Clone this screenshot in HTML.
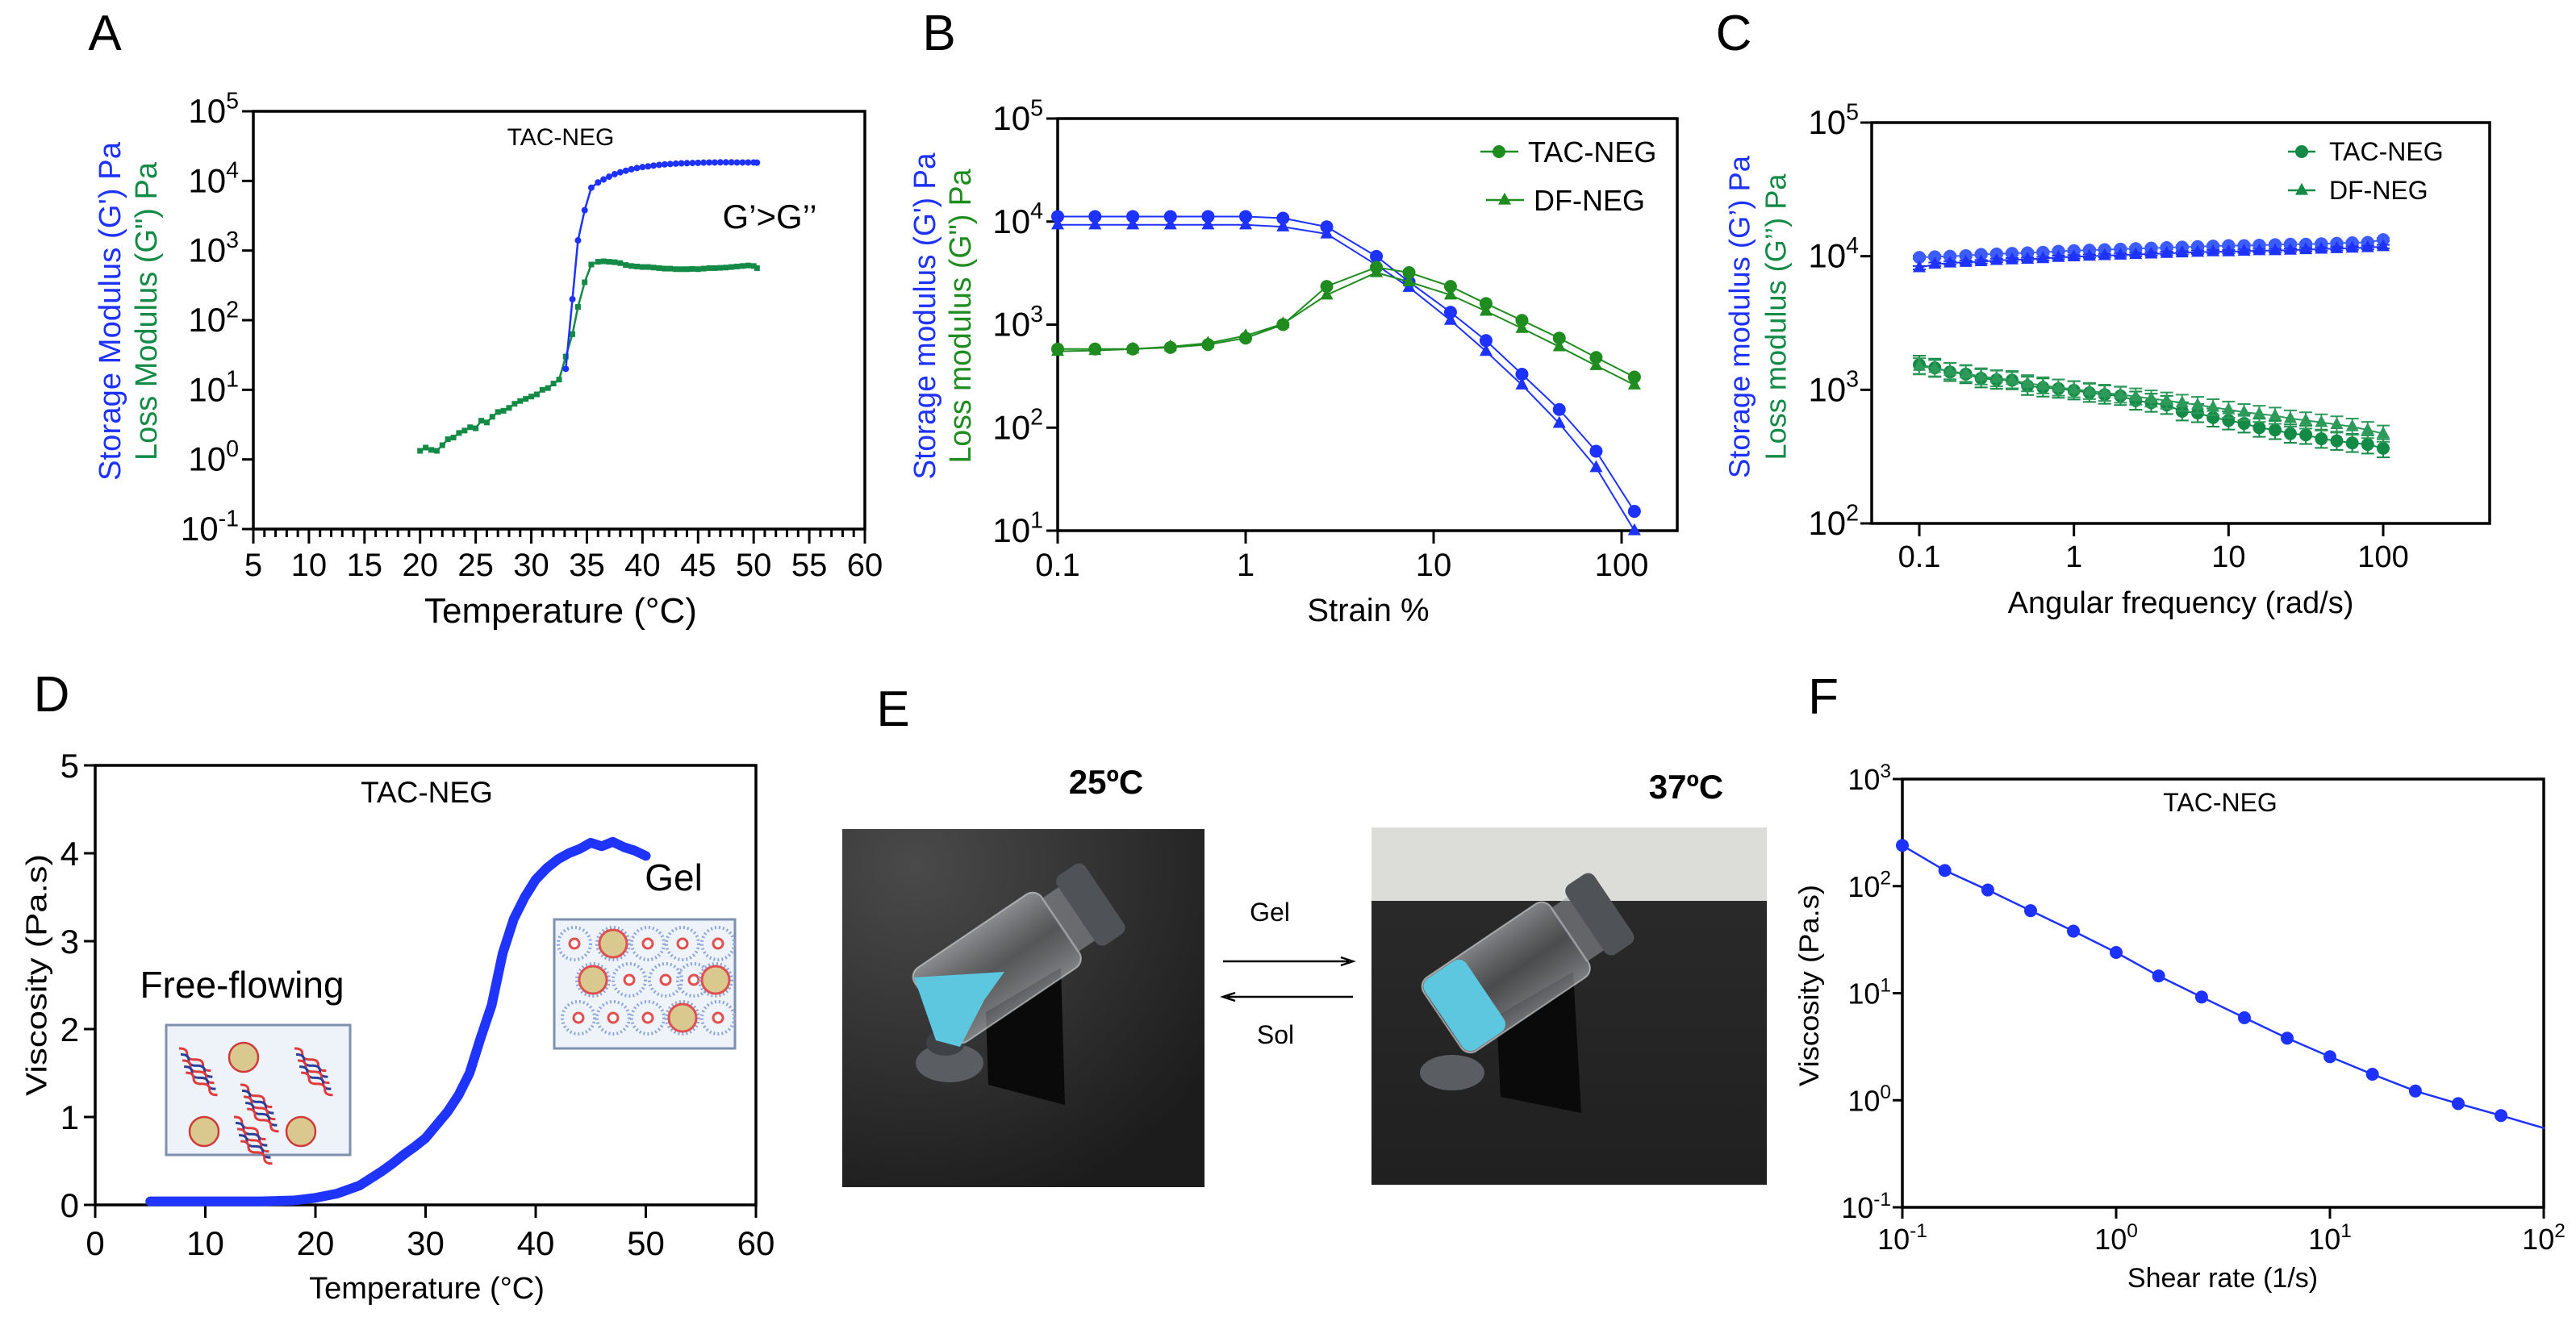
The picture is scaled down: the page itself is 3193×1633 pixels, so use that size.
<!DOCTYPE html>
<html><head><meta charset="utf-8"><title>Rheology figure</title>
<style>
html,body{margin:0;padding:0;background:#fff;}
svg{display:block;font-family:"Liberation Sans",Arial,sans-serif;}
</style></head>
<body>
<svg id="fig" xmlns="http://www.w3.org/2000/svg" width="3193" height="1633" viewBox="0 0 3193 1633">
<defs>
<radialGradient id="bg1" cx="0.2" cy="0.1" r="1"><stop offset="0" stop-color="#4a4a4a"/><stop offset="1" stop-color="#1c1c1c"/></radialGradient>
<linearGradient id="bg2" x1="0" y1="0" x2="0" y2="1"><stop offset="0" stop-color="#2c2c2c"/><stop offset="1" stop-color="#202020"/></linearGradient>
<linearGradient id="glass" x1="0" y1="0" x2="0" y2="1"><stop offset="0" stop-color="#c8ccd0" stop-opacity="0.55"/><stop offset="0.5" stop-color="#8a8f95" stop-opacity="0.35"/><stop offset="1" stop-color="#c0c4c8" stop-opacity="0.55"/></linearGradient>
<clipPath id="clip1"><rect x="1044" y="1028" width="449" height="444"/></clipPath>
<clipPath id="clip2"><rect x="1700" y="1026" width="490" height="443"/></clipPath>
</defs>
<g id="photos">
 <g clip-path="url(#clip1)">
  <rect x="1044" y="1028" width="449" height="444" fill="url(#bg1)"/>
  <polygon points="1222,1255 1315,1200 1320,1370 1225,1345" fill="#0a0a0a"/>
  <ellipse cx="1177" cy="1318" rx="42" ry="24" fill="#5a5e63"/>
  <ellipse cx="1172" cy="1293" rx="24" ry="16" fill="#3e4145"/>
  <g transform="translate(1157,1253) rotate(-34)">
   <rect x="0" y="-55" width="190" height="110" rx="14" fill="url(#glass)" stroke="#d8dadc" stroke-width="2" stroke-opacity="0.6"/>
   <rect x="188" y="-40" width="28" height="80" fill="#9ea2a7" opacity="0.5"/>
   <rect x="214" y="-52" width="42" height="104" rx="10" fill="#4f5358"/>
  </g>
  <polygon points="1133,1212 1245,1205 1220,1240 1190,1298 1160,1290" fill="#5cc7de"/>
 </g>
 <g clip-path="url(#clip2)">
  <rect x="1700" y="1026" width="490" height="443" fill="url(#bg2)"/>
  <rect x="1700" y="1026" width="490" height="91" fill="#dcdcd8"/>
  <polygon points="1855,1260 1950,1205 1960,1380 1860,1360" fill="#0a0a0a"/>
  <ellipse cx="1800" cy="1330" rx="40" ry="22" fill="#5a5e63"/>
  <g transform="translate(1788,1265) rotate(-34)">
   <rect x="0" y="-55" width="190" height="110" rx="14" fill="url(#glass)" stroke="#d8dadc" stroke-width="2" stroke-opacity="0.6"/>
   <rect x="2" y="-53" width="62" height="106" rx="12" fill="#5cc7de"/>
   <rect x="188" y="-40" width="28" height="80" fill="#9ea2a7" opacity="0.5"/>
   <rect x="214" y="-52" width="42" height="104" rx="10" fill="#4f5358"/>
  </g>
 </g>
</g>
<g id="root"></g>
</svg>
<script>
// ---------- Panel A data ----------
const aGpTemps=[33.1,33.7,34.2,34.8,35.4,36,36.5,37,37.5,38,38.5,39,39.5,40,40.5,41,41.5,42,42.5,43,43.5,44,44.5,45,45.5,46,46.5,47,47.5,48,48.5,49,49.5,50,50.3];
const aGp=[20,200,1400,3800,8000,9500,10500,11500,12500,13300,14000,14700,15300,15800,16200,16600,17000,17300,17500,17700,17900,18000,18100,18200,18300,18400,18400,18500,18500,18500,18400,18400,18400,18400,18300];
const aGppTemps=[20,20.5,21,21.5,22,22.5,23,23.5,24,24.5,25,25.5,26,26.5,27,27.5,28,28.5,29,29.5,30,30.5,31,31.5,32,32.5,33.1,33.7,34.2,34.8,35.4,36,36.5,37,37.5,38,38.5,39,39.5,40,40.5,41,41.5,42,42.5,43,43.5,44,44.5,45,45.5,46,46.5,47,47.5,48,48.5,49,49.5,50,50.3];
const aGpp=[1.33,1.48,1.37,1.33,1.6,1.95,2.06,2.4,2.6,2.9,2.8,3.6,3.4,4.1,4.8,5.0,5.5,6.3,6.9,7.4,8.0,8.6,10,10.6,12.3,14,30,63,155,350,630,690,700,690,680,660,620,600,590,580,580,570,560,550,550,540,540,540,545,540,550,560,560,565,570,580,590,600,610,600,560];
const aXTicks=[5,10,15,20,25,30,35,40,45,50,55,60];
const aYExp=[-1,0,1,2,3,4,5];
// ---------- Panel B data ----------
const bStrain=[0.1,0.158,0.251,0.398,0.631,1,1.58,2.7,4.96,7.4,12.3,19,29.5,46.6,73.2,117];
const bTacGp=[11200,11200,11200,11200,11200,11200,10800,8900,4600,2600,1320,700,330,150,59,15.4];
const bDfGp=[9300,9300,9300,9300,9300,9300,8900,7600,3800,2300,1100,550,260,110,41,10];
const bTacGpp=[580,580,580,600,640,740,1000,2350,3600,3200,2350,1600,1100,740,480,310];
const bDfGpp=[550,560,580,610,660,780,1020,1940,3200,2600,1940,1350,920,610,400,260];
const bXLabels=["0.1","1","10","100"];
const bYExp=[1,2,3,4,5];
// ---------- Panel C data ----------
const cFreq=[0.1,0.126,0.158,0.2,0.251,0.316,0.398,0.501,0.631,0.794,1,1.26,1.58,2,2.51,3.16,3.98,5.01,6.31,7.94,10,12.6,15.8,20,25.1,31.6,39.8,50.1,63.1,79.4,100];
const cTacGp=[9800,9900,10000,10100,10300,10400,10500,10600,10700,10900,11000,11100,11200,11300,11400,11500,11600,11700,11800,11900,12000,12000,12100,12200,12300,12300,12400,12500,12600,12700,13300];
const cDfGp=[8200,8700,8900,9000,9100,9300,9400,9500,9600,9800,9900,10000,10100,10200,10300,10400,10500,10600,10700,10800,10800,10900,11000,11000,11100,11200,11300,11400,11500,11600,11800];
const cTacGpp=[1540,1460,1360,1310,1220,1190,1180,1070,1040,1020,990,950,920,900,830,800,770,690,670,620,590,560,520,500,470,460,430,415,400,390,365];
const cDfGpp=[1500,1450,1380,1320,1260,1220,1180,1120,1080,1040,1010,980,950,920,890,860,830,800,770,740,710,680,660,640,610,590,570,550,530,500,470];
const cXLabels=["0.1","1","10","100"];
const cYExp=[2,3,4,5];
// ---------- Panel D data ----------
const dTemp=[5,8,10,12,15,18,20,22,24,25,26,27,28,29,30,31,32,33,34,35,36,37,38,39,40,41,42,43,44,45,46,47,48,49,50];
const dVisc=[0.04,0.04,0.04,0.04,0.04,0.05,0.08,0.13,0.22,0.3,0.38,0.47,0.57,0.66,0.76,0.91,1.06,1.25,1.5,1.9,2.27,2.86,3.25,3.5,3.7,3.83,3.93,4.0,4.05,4.12,4.08,4.13,4.07,4.03,3.97];
const dXTicks=[0,10,20,30,40,50,60];
const dYTicks=[0,1,2,3,4,5];
// ---------- Panel F data ----------
const fRate=[0.1,0.158,0.251,0.398,0.631,1,1.58,2.51,3.98,6.31,10,15.8,25.1,39.8,63.1];
const fVisc=[240,140,92,59,38,24,14.5,9.2,5.9,3.8,2.55,1.75,1.22,0.93,0.72];
const fFitRate=[0.1,0.158,0.251,0.398,0.631,1,1.58,2.51,3.98,6.31,10,15.8,25.1,39.8,63.1,100];
const fFitVisc=[240,140,92,59,38,24,14.5,9.2,5.9,3.8,2.55,1.75,1.22,0.93,0.72,0.55];
const fXExp=[-1,0,1,2];
const fYExp=[-1,0,1,2,3];

const NS="http://www.w3.org/2000/svg";
const root=document.getElementById('root');
const BLUE="#1e32ff", GREEN="#138a45", GREENB="#1f8c1f";
function mk(tag,attrs,parent){const e=document.createElementNS(NS,tag);for(const k in attrs)e.setAttribute(k,attrs[k]);(parent||root).appendChild(e);return e;}
function lin(v,d0,d1,p0,p1){return p0+(v-d0)/(d1-d0)*(p1-p0);}
function lg(v,d0,d1,p0,p1){return p0+(Math.log10(v)-d0)/(d1-d0)*(p1-p0);}
function text(x,y,s,size,anchor,fill,name,extra){
  const t=mk('text',Object.assign({x:x,y:y,'font-size':size,'text-anchor':anchor||'middle',fill:fill||'#000'},extra||{}));
  t.textContent=s;
  
  
  return t;}
function supText(x,y,base,exp,size,anchor,name){
  const t=mk('text',{x:x,y:y,'font-size':size,'text-anchor':anchor});
  
  
  const a=document.createElementNS(NS,'tspan');a.textContent=base;t.appendChild(a);
  const b=document.createElementNS(NS,'tspan');b.setAttribute('dy',-size*0.42);b.setAttribute('font-size',size*0.68);b.textContent=exp;t.appendChild(b);
  return t;}
function frame(l,t,r,b,name){const e=mk('rect',{x:l,y:t,width:r-l,height:b-t,fill:'none',stroke:'#000','stroke-width':3.5});
  
  }
function tick(x1,y1,x2,y2){const e=mk('line',{x1:x1,y1:y1,x2:x2,y2:y2,stroke:'#000','stroke-width':3});
  
  }
function poly(pts,color,w,name){const e=mk('polyline',{points:pts.map(p=>p.join(',')).join(' '),fill:'none',stroke:color,'stroke-width':w,'stroke-linejoin':'round','stroke-linecap':'round'});
  
  }
function dot(x,y,r,color,name){const e=mk('circle',{cx:x,cy:y,r:r,fill:color});
  
  }
function tri(x,y,r,color,name){const e=mk('polygon',{points:`${x},${y-r*1.15} ${x-r},${y+r*0.7} ${x+r},${y+r*0.7}`,fill:color});
  
  }
function vtitle(x,cy,s,size,color,name,len){const t=text(x,cy,s,size,'middle',color,name,{transform:`rotate(-90 ${x} ${cy})`,'dominant-baseline':'central',textLength:len,lengthAdjust:'spacingAndGlyphs'});return t;}

// panel letters
[["A",130,62],["B",1164,62],["C",2149,62],["D",64,882],["E",1107,900],["F",2260,885]].forEach(p=>{text(p[1],p[2],p[0],62,'middle','#000','panel-letter-'+p[0].toLowerCase());});

// ================= Panel A =================
(function(){
 const L=314,R=1072,T=138,B=656;
 const X=v=>lin(v,5,60,L,R), Y=v=>lg(v,-1,5,B,T);
 frame(L,T,R,B,'panel-a-plot-frame');
 for(let t=5;t<=60;t++){tick(X(t),B,X(t),B+(t%5===0?18:10));}
 aXTicks.forEach(t=>text(X(t),B+58,String(t),40,'middle','#000','a-x-tick-label'));
 aYExp.forEach(e=>{tick(L-14,Y(Math.pow(10,e)),L,Y(Math.pow(10,e)));supText(L-18,Y(Math.pow(10,e))+14,'10',String(e),42,'end','a-y-tick-label');});
 text(695,772,'Temperature (°C)',44,'middle','#000','a-x-axis-title');
 vtitle(137,386,"Storage Modulus (G') Pa",38,BLUE,'a-y-title-storage',420);
 vtitle(182,386,'Loss Modulus (G") Pa',38,GREEN,'a-y-title-loss',370);
 text(695,180,'TAC-NEG',30,'middle','#000','a-sample-label');
 text(954,283,"G’>G’’",42,'middle','#000','a-annotation');
 poly(aGppTemps.map((t,i)=>[X(t),Y(aGpp[i])]),GREEN,2.5,'a-loss-line');
 aGppTemps.forEach((t,i)=>{const x=X(t),y=Y(aGpp[i]);const e=mk('rect',{x:x-3.5,y:y-3.5,width:7,height:7,fill:GREEN});
  
  });
 poly(aGpTemps.map((t,i)=>[X(t),Y(aGp[i])]),BLUE,2.5,'a-storage-line');
 aGpTemps.forEach((t,i)=>dot(X(t),Y(aGp[i]),4,BLUE,'a-storage-point'));
})();

// ================= Panel B =================
(function(){
 const L=1311,R=2079,T=147,B=658;
 const X=v=>lg(v,-1,-1+(R-L)/233,L,R), Y=v=>lg(v,1,5,B,T);
 frame(L,T,R,B,'panel-b-plot-frame');
 bXLabels.forEach((s,i)=>{const x=X(Math.pow(10,i-1));tick(x,B,x,B+16);text(x,B+56,s,40,'middle','#000','b-x-tick-label');});
 bYExp.forEach(e=>{const y=Y(Math.pow(10,e));tick(L-14,y,L,y);supText(L-18,y+14,'10',String(e),42,'end','b-y-tick-label');});
 text(1696,770,'Strain %',40,'middle','#000','b-x-axis-title');
 vtitle(1147,392,"Storage modulus (G') Pa",38,BLUE,'b-y-title-storage',405);
 vtitle(1191,392,'Loss modulus (G") Pa',38,GREENB,'b-y-title-loss',365);
 const series=[[bDfGp,BLUE,'tri','b-df-storage'],[bTacGp,BLUE,'dot','b-tac-storage'],[bDfGpp,GREENB,'tri','b-df-loss'],[bTacGpp,GREENB,'dot','b-tac-loss']];
 series.forEach(s=>{poly(bStrain.map((x,i)=>[X(x),Y(s[0][i])]),s[1],2,s[3]+'-line');
  bStrain.forEach((x,i)=>{if(s[2]==='dot')dot(X(x),Y(s[0][i]),8,s[1],s[3]+'-point');else tri(X(x),Y(s[0][i]),8,s[1],s[3]+'-point');});});
 mk('line',{x1:1835,y1:188,x2:1882,y2:188,stroke:GREENB,'stroke-width':2.5});
 dot(1858,188,8,GREENB,'b-legend-marker-tac');
 text(1894,201,'TAC-NEG',36,'start','#000','b-legend-entry-tac');
 mk('line',{x1:1842,y1:248,x2:1889,y2:248,stroke:GREENB,'stroke-width':2.5});
 tri(1865,248,8,GREENB,'b-legend-marker-df');
 text(1901,261,'DF-NEG',36,'start','#000','b-legend-entry-df');
})();

// ================= Panel C =================
(function(){
 const L=2320,R=3086,T=152,B=649;
 const X=v=>lg(v,-1,2,2379,2954), Y=v=>lg(v,2,5,B,T);
 frame(L,T,R,B,'panel-c-plot-frame');
 cXLabels.forEach((s,i)=>{const x=X(Math.pow(10,i-1));tick(x,B,x,B+16);text(x,B+54,s,38,'middle','#000','c-x-tick-label');});
 cYExp.forEach(e=>{const y=Y(Math.pow(10,e));tick(L-14,y,L,y);supText(L-16,y+14,'10',String(e),42,'end','c-y-tick-label');});
 text(2703,760,'Angular frequency (rad/s)',38,'middle','#000','c-x-axis-title');
 vtitle(2156,393,"Storage modulus (G’) Pa",36,BLUE,'c-y-title-storage',400);
 vtitle(2201,393,'Loss modulus (G’’) Pa',36,GREEN,'c-y-title-loss',355);
 const LB="#3d5cff";
 const series=[[cTacGpp,GREEN,'dot','c-tac-loss',1.17],[cDfGpp,"#2e9a5a",'tri','c-df-loss',1.15],[cTacGp,LB,'dot','c-tac-storage',1.03],[cDfGp,BLUE,'tri','c-df-storage',1.03]];
 series.forEach(s=>{
  cFreq.forEach((f,i)=>{const x=X(f),v=s[0][i];const y1=Y(v*s[4]),y2=Y(v/s[4]);
   const e=mk('path',{d:`M${x},${y1}V${y2}M${x-8},${y1}H${x+8}M${x-8},${y2}H${x+8}`,stroke:s[1],'stroke-width':2,fill:'none'});
   
   });
  poly(cFreq.map((f,i)=>[X(f),Y(s[0][i])]),s[1],2,s[3]+'-line');
  cFreq.forEach((f,i)=>{if(s[2]==='dot')dot(X(f),Y(s[0][i]),8,s[1],s[3]+'-point');else tri(X(f),Y(s[0][i]),8,s[1],s[3]+'-point');});});
 mk('line',{x1:2836,y1:188,x2:2870,y2:188,stroke:GREEN,'stroke-width':2.5});
 dot(2853,188,8,GREEN,'c-legend-marker-tac');
 text(2887,199,'TAC-NEG',32,'start','#000','c-legend-entry-tac');
 mk('line',{x1:2836,y1:236,x2:2870,y2:236,stroke:GREEN,'stroke-width':2.5});
 tri(2853,236,8,GREEN,'c-legend-marker-df');
 text(2887,247,'DF-NEG',32,'start','#000','c-legend-entry-df');
})();

// ================= Panel D =================
(function(){
 const L=118,R=937,T=949,B=1494;
 const X=v=>lin(v,0,60,L,R), Y=v=>lin(v,0,5,B,T);
 frame(L,T,R,B,'panel-d-plot-frame');
 dXTicks.forEach(t=>{tick(X(t),B,X(t),B+16);text(X(t),B+62,String(t),42,'middle','#000','d-x-tick-label');});
 dYTicks.forEach(t=>{tick(L-14,Y(t),L,Y(t));text(L-20,Y(t)+15,String(t),42,'end','#000','d-y-tick-label');});
 text(529,1610,'Temperature (°C)',38,'middle','#000','d-x-axis-title');
 vtitle(45,1209,'Viscosity (Pa.s)',36,'#000','d-y-axis-title',300);
 text(529,995,'TAC-NEG',37,'middle','#000','d-sample-label');
 text(300,1237,'Free-flowing',46,'middle','#000','d-free-flowing-label');
 text(835,1104,'Gel',46,'middle','#000','d-gel-label');
 poly(dTemp.map((t,i)=>[X(t),Y(dVisc[i])]),"#1f35ff",12,'d-viscosity-curve');
 const b1=mk('rect',{x:206,y:1271,width:228,height:161,fill:'#eef3fa',stroke:'#7f8fae','stroke-width':3});
 
 
 [[302,1311],[253,1403],[373,1403]].forEach(c=>{mk('circle',{cx:c[0],cy:c[1],r:18,fill:'#d9c98f',stroke:'#d23a3a','stroke-width':2.5});});
 [[222,1300,270,1370],[365,1300,410,1370],[298,1345,350,1375],[290,1385,345,1412]].forEach(s=>{
  for(let k=0;k<5;k++){mk('path',{d:`M${s[0]+k*6},${s[1]+k*5} q8,-6 12,0 t12,0 t12,0 t12,0`,transform:`rotate(35 ${s[0]} ${s[1]})`,stroke:k%2?'#2b3f9a':'#e03a3a','stroke-width':3,fill:'none'});}});
 const b2=mk('rect',{x:687,y:1140,width:224,height:160,fill:'#eef3fa',stroke:'#7f8fae','stroke-width':3});
 
 
 [[712,1170],[760,1170],[803,1170],[846,1170],[890,1170],[735,1215],[780,1215],[825,1215],[860,1215],[887,1215],[717,1262],[760,1262],[803,1262],[846,1262],[890,1262]].forEach((c,i)=>{
  mk('circle',{cx:c[0],cy:c[1],r:20,fill:'none',stroke:'#8fa6d8','stroke-width':4,'stroke-dasharray':'2 3'});
  mk('circle',{cx:c[0],cy:c[1],r:(i%4===1)?17:6,fill:(i%4===1)?'#d9c98f':'#fff',stroke:'#e05050','stroke-width':3});});
})();

// ================= Panel E labels =================
text(1371,984,'25ºC',42,'middle','#000','e-25c-label',{'font-weight':'bold'});
text(2090,990,'37ºC',42,'middle','#000','e-37c-label',{'font-weight':'bold'});
text(1574,1142,'Gel',32,'middle','#000','e-gel-label');
text(1581,1294,'Sol',32,'middle','#000','e-sol-label');
mk('path',{d:'M1516,1192H1672M1662,1187L1677,1192L1662,1197',stroke:'#000','stroke-width':2.5,fill:'none'});
mk('path',{d:'M1677,1236H1521M1531,1231L1516,1236L1531,1241',stroke:'#000','stroke-width':2.5,fill:'none'});

// ================= Panel F =================
(function(){
 const L=2358,R=3153,T=966,B=1497;
 const X=v=>lg(v,-1,2,L,R), Y=v=>lg(v,-1,3,B,T);
 frame(L,T,R,B,'panel-f-plot-frame');
 fXExp.forEach(e=>{const x=X(Math.pow(10,e));tick(x,B,x,B+14);supText(x,B+52,'10',String(e),36,'middle','f-x-tick-label');});
 fYExp.forEach(e=>{const y=Y(Math.pow(10,e));tick(L-12,y,L,y);supText(L-14,y+13,'10',String(e),36,'end','f-y-tick-label');});
 text(2755,1596,'Shear rate (1/s)',34,'middle','#000','f-x-axis-title');
 vtitle(2243,1222,'Viscosity (Pa.s)',34,'#000','f-y-axis-title',250);
 text(2752,1006,'TAC-NEG',32,'middle','#000','f-sample-label');
 poly(fFitRate.map((r,i)=>[X(r),Y(fFitVisc[i])]),BLUE,2.5,'f-fit-line');
 fRate.forEach((r,i)=>dot(X(r),Y(fVisc[i]),8,BLUE,'f-data-point'));
})();
</script>
</body></html>
